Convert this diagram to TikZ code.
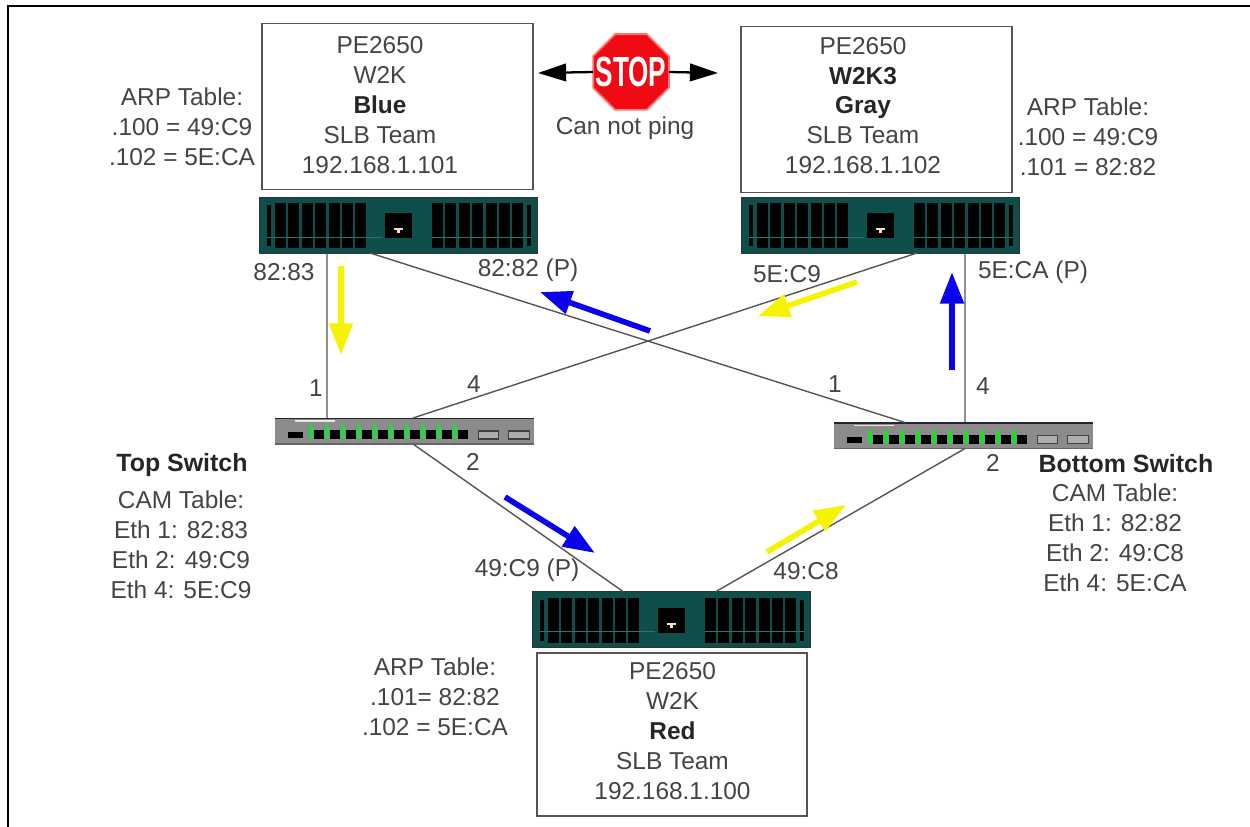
\documentclass[tikz,border=0pt]{standalone}
\usepackage{xcolor}
\usepackage{tikz}
\usepackage{fontspec}
\setmainfont{Liberation Sans}
\usetikzlibrary{arrows.meta,shapes.geometric}
\definecolor{UnitTeal}{HTML}{0E4F4C}
\definecolor{UnitLine}{HTML}{1F7A6E}
\definecolor{SwitchGray}{HTML}{8C8A8C}
\definecolor{PortGreen}{HTML}{22D83A}
\definecolor{LabelGray}{HTML}{444444}
\definecolor{LinkGray}{HTML}{555555}
\definecolor{FlowBlue}{HTML}{0A00EE}
\definecolor{FlowYellow}{HTML}{F7F200}
\definecolor{StopRed}{HTML}{F00A14}
\newcommand{\boldname}[1]{\textcolor{black!85}{\textbf{#1}}}
\tikzset{
  labeltext/.style={text=LabelGray,font=\fontsize{13.9}{17}\selectfont,align=center,inner sep=0pt},
  titletext/.style={labeltext,text=black!85,font=\fontsize{14.2}{17}\selectfont\bfseries},
  serverbox/.style={draw=LinkGray,line width=0.9pt,fill=white,minimum width=5.42cm,minimum height=3.32cm,inner sep=0pt,outer sep=0pt},
  unitbody/.style={draw=black!80,line width=0.5pt,fill=UnitTeal,minimum width=5.56cm,minimum height=1.12cm,inner sep=0pt,outer sep=0pt},
  switchbody/.style={fill=SwitchGray,minimum width=5.18cm,minimum height=0.52cm,inner sep=0pt,outer sep=0pt},
  link/.style={draw=LinkGray,line width=0.8pt},
  blueflow/.style={draw=FlowBlue,line width=3.2pt,-{Triangle[length=18pt,width=13pt]}},
  yellowflow/.style={draw=FlowYellow,line width=3.2pt,-{Triangle[length=18pt,width=13pt]}},
  blackflow/.style={draw=black,line width=1.3pt,-{Triangle[length=16pt,width=10pt]}},
}
% server chassis: name, centre x, centre y
\newcommand{\serverunit}[3]{
  \node[unitbody] (#1) at (#2,#3) {};
  \begin{scope}[shift={(#2,#3)}]
    \fill[black] (-131,-20) rectangle (-127,21);
    \fill[black] (129,-20) rectangle (133,21);
    \foreach \i in {0,...,6} {
      \fill[black] (-123+13.4*\i,-22) rectangle (-112+13.4*\i,23);
      \fill[black] (34+13.4*\i,-22) rectangle (45+13.4*\i,23);
    }
    \draw[UnitLine,line width=0.4pt] (-131,12) -- (-16,12);
    \draw[UnitLine,line width=0.4pt] (34,12) -- (133,12);
    \fill[black] (-13,-12) rectangle (14,13);
    \fill[white!85!red] (-4,3) rectangle (5,5);
    \fill[white!85!red] (-1,5) rectangle (2,8);
  \end{scope}
}
% switch body: name, centre x, centre y
\newcommand{\switchunit}[3]{
  \node[switchbody] (#1) at (#2,#3) {};
  \begin{scope}[shift={(#2,#3)}]
    \draw[black!85,line width=1.1pt] (-129.5,-12.5) -- (129.5,-12.5);
    \draw[black!60,line width=0.6pt] (-129.5,13) -- (129.5,13);
    \draw[white!80!gray,line width=0.8pt] (-110,-10) -- (-70,-10);
    \fill[black] (-117,1) rectangle (-102,7);
    \foreach \i in {0,...,9} {
      \fill[black] (-91+16*\i,-1) rectangle (-81+16*\i,8);
      \fill[PortGreen] (-96+16*\i,-6) rectangle (-92+16*\i,8);
    }
    \draw[black!75,fill=SwitchGray!70!white,line width=0.7pt] (74,0) rectangle (94,8);
    \draw[black!75,fill=SwitchGray!70!white,line width=0.7pt] (104,0) rectangle (125,8);
  \end{scope}
}
\begin{document}
\begin{tikzpicture}[x=0.02cm,y=-0.02cm]
  \useasboundingbox (0,0) rectangle (1250,827);
  % frame, open at the right and at the bottom
  \coordinate (frameA) at (8,827);
  \coordinate (frameB) at (8,6);
  \coordinate (frameC) at (1250,6);
  \draw[black,line width=1.1pt] (frameA) -- (frameB) -- (frameC);

  % servers
  \node[serverbox] (bluebox) at (397.5,106.5) {};
  \node[serverbox] (graybox) at (876.5,109.5) {};
  \node[serverbox,minimum width=5.4cm,minimum height=3.26cm] (redbox) at (672,734.5) {};
  \node[labeltext] (bluetext) at (380,105) {PE2650\\W2K\\\boldname{Blue}\\SLB Team\\192.168.1.101};
  \node[labeltext] (graytext) at (863,105.5) {PE2650\\\boldname{W2K3}\\\boldname{Gray}\\SLB Team\\192.168.1.102};
  \node[labeltext] (redtext) at (672.5,731) {PE2650\\W2K\\\boldname{Red}\\SLB Team\\192.168.1.100};
  \serverunit{blueunit}{398}{225}
  \serverunit{grayunit}{880}{225}
  \serverunit{redunit}{671}{619.5}

  % switches
  \switchunit{topswitch}{404.5}{431}
  \switchunit{bottomswitch}{963.5}{435.5}

  % links
  \draw[link] ([xshift=-1.42cm]blueunit.south) -- ([xshift=-1.55cm]topswitch.north);
  \draw[link] ([xshift=-0.56cm]blueunit.south) -- ([xshift=-1.17cm]bottomswitch.north);
  \draw[link] ([xshift=0.74cm]grayunit.south) -- ([xshift=0.17cm]topswitch.north);
  \draw[link] ([xshift=1.70cm]grayunit.south) -- ([xshift=0.03cm]bottomswitch.north);
  \draw[link] ([xshift=0.17cm]topswitch.south) -- ([xshift=-0.96cm]redunit.north);
  \draw[link] ([xshift=0.03cm]bottomswitch.south) -- ([xshift=0.90cm]redunit.north);

  % traffic arrows
  \coordinate (flowAs) at (341,266);
  \coordinate (flowAe) at (341,355);
  \coordinate (flowBs) at (650,331);
  \coordinate (flowBe) at (540,292);
  \coordinate (flowCs) at (857,282);
  \coordinate (flowCe) at (758,316);
  \coordinate (flowDs) at (952,370);
  \coordinate (flowDe) at (952,272);
  \coordinate (flowEs) at (505,497);
  \coordinate (flowEe) at (595,553);
  \coordinate (flowFs) at (767,552);
  \coordinate (flowFe) at (846,505);
  \draw[yellowflow] (flowAs) -- (flowAe);
  \draw[blueflow] (flowBs) -- (flowBe);
  \draw[yellowflow] (flowCs) -- (flowCe);
  \draw[blueflow] (flowDs) -- (flowDe);
  \draw[blueflow] (flowEs) -- (flowEe);
  \draw[yellowflow] (flowFs) -- (flowFe);

  % stop sign between the two servers
  \node[regular polygon,regular polygon sides=8,minimum size=1.64cm,inner sep=0pt,outer sep=0pt,fill=StopRed,draw=red!55!white,line width=1pt] (stopsign) at (631,72) {};
  \node[text=white,inner sep=0pt,font=\fontsize{24}{24}\selectfont\bfseries] (stoptext) at (stopsign) {\scalebox{0.62}[1]{STOP}};
  \coordinate (pingL) at (538,73);
  \coordinate (pingR) at (718,73);
  \draw[blackflow] (stopsign.west) -- (pingL);
  \draw[blackflow] (stopsign.east) -- (pingR);
  \node[labeltext] (pinglabel) at (625,128) {Can not ping};

  % ARP tables
  \node[labeltext] (bluearp) at (182,127) {ARP Table:\\.100 = 49:C9\\.102 = 5E:CA};
  \node[labeltext] (grayarp) at (1088,137) {ARP Table:\\.100 = 49:C9\\.101 = 82:82};
  \node[labeltext] (redarp) at (435,697) {ARP Table:\\.101= 82:82\\.102 = 5E:CA};

  % CAM tables
  \node[titletext] (toptitle) at (182,465) {Top Switch};
  \node[labeltext] (topcam) at (181,545) {CAM Table:\\Eth 1: 82:83\\Eth 2: 49:C9\\Eth 4: 5E:C9};
  \node[titletext] (bottomtitle) at (1126,464) {Bottom Switch};
  \node[labeltext] (bottomcam) at (1115,538) {CAM Table:\\Eth 1: 82:82\\Eth 2: 49:C8\\Eth 4: 5E:CA};

  % port and address labels
  \node[labeltext] (addrA) at (284,272) {82:83};
  \node[labeltext] (addrB) at (528,270) {82:82 (P)};
  \node[labeltext] (addrC) at (787,274) {5E:C9};
  \node[labeltext] (addrD) at (1033,272) {5E:CA (P)};
  \node[labeltext] (addrE) at (527,570) {49:C9 (P)};
  \node[labeltext] (addrF) at (806,571) {49:C8};
  \node[labeltext] (portA) at (316,388) {1};
  \node[labeltext] (portB) at (474,384) {4};
  \node[labeltext] (portC) at (835,384) {1};
  \node[labeltext] (portD) at (983,386) {4};
  \node[labeltext] (portE) at (473,462) {2};
  \node[labeltext] (portF) at (993,463) {2};
\end{tikzpicture}
\end{document}
